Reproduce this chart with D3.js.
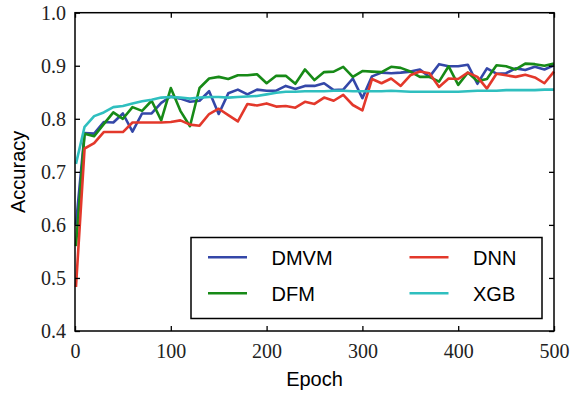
<!DOCTYPE html>
<html>
<head>
<meta charset="utf-8">
<script src="https://cdn.jsdelivr.net/npm/d3@7"></script>
<style>
  html, body { margin: 0; padding: 0; background: #fff; }
  svg { display: block; }
</style>
</head>
<body>
<svg id="chart" width="572" height="394"></svg>
<script>
const epochs = [1,10,20,30,40,50,60,70,80,90,100,110,120,130,140,150,160,170,180,190,200,210,220,230,240,250,260,270,280,290,300,310,320,330,340,350,360,370,380,390,400,410,420,430,440,450,460,470,480,490,500];

const dmvm = [0.600,0.773,0.772,0.794,0.793,0.810,0.776,0.810,0.810,0.830,0.842,0.838,0.832,0.834,0.852,0.809,0.848,0.855,0.846,0.855,0.853,0.853,0.862,0.856,0.862,0.862,0.867,0.854,0.855,0.876,0.839,0.880,0.887,0.886,0.887,0.889,0.893,0.879,0.903,0.899,0.899,0.902,0.866,0.895,0.885,0.886,0.895,0.892,0.898,0.893,0.901];

const dfm = [0.560,0.772,0.767,0.790,0.812,0.800,0.822,0.815,0.834,0.797,0.858,0.815,0.786,0.858,0.876,0.879,0.875,0.882,0.882,0.884,0.867,0.881,0.881,0.866,0.893,0.873,0.888,0.889,0.898,0.879,0.890,0.889,0.888,0.898,0.896,0.889,0.879,0.879,0.870,0.899,0.864,0.887,0.871,0.875,0.901,0.899,0.893,0.904,0.903,0.900,0.904];

const dnn = [0.483,0.744,0.754,0.775,0.775,0.775,0.793,0.793,0.793,0.793,0.794,0.797,0.789,0.787,0.809,0.819,0.807,0.795,0.828,0.825,0.829,0.823,0.824,0.821,0.832,0.828,0.840,0.834,0.845,0.826,0.816,0.875,0.867,0.876,0.862,0.882,0.889,0.886,0.860,0.876,0.875,0.887,0.879,0.857,0.885,0.882,0.879,0.883,0.878,0.867,0.889];

const xgb = [0.715,0.785,0.805,0.812,0.822,0.824,0.829,0.833,0.836,0.840,0.841,0.840,0.838,0.840,0.841,0.841,0.840,0.841,0.842,0.843,0.846,0.849,0.851,0.851,0.852,0.852,0.852,0.853,0.853,0.852,0.852,0.852,0.852,0.853,0.852,0.851,0.851,0.851,0.851,0.851,0.851,0.852,0.853,0.853,0.853,0.854,0.854,0.854,0.854,0.855,0.855];

const seriesNames = ["DMVM", "DFM", "DNN", "XGB"];
const seriesValues = [dmvm, dfm, dnn, xgb];
const seriesColors = ["#3447a8", "#178a17", "#e3382b", "#2fbfbf"];

const xTicks = [0, 100, 200, 300, 400, 500];
const yTicks = [0.4, 0.5, 0.6, 0.7, 0.8, 0.9, 1.0];

const svg = d3.select("#chart");
const pLeft = 75, pRight = 554, pTop = 12.7, pBottom = 331;

const x = d3.scaleLinear().domain([0, 500]).range([pLeft, pRight]);
const y = d3.scaleLinear().domain([0.4, 1.0]).range([pBottom, pTop]);

// lines
const line = d3.line().x((d, i) => x(epochs[i])).y(d => y(d));
seriesValues.forEach((vals, k) => {
  svg.append("path")
    .datum(vals)
    .attr("fill", "none")
    .attr("stroke", seriesColors[k])
    .attr("stroke-width", 2.6)
    .attr("stroke-linejoin", "round")
    .attr("d", line);
});

const tickFont = "'Liberation Serif', 'Times New Roman', serif";
const sansFont = "'Liberation Sans', Arial, Helvetica, sans-serif";

// axes
const axB = svg.append("g").attr("transform", `translate(0,${pBottom})`)
  .call(d3.axisBottom(x).tickValues(xTicks).tickSize(-5).tickPadding(13).tickFormat(d3.format("d")));
const axT = svg.append("g").attr("transform", `translate(0,${pTop})`)
  .call(d3.axisTop(x).tickValues(xTicks).tickSize(-5).tickFormat(""));
const axL = svg.append("g").attr("transform", `translate(${pLeft},0)`)
  .call(d3.axisLeft(y).tickValues(yTicks).tickSize(-5).tickPadding(9).tickFormat(d3.format(".1f")));
const axR = svg.append("g").attr("transform", `translate(${pRight},0)`)
  .call(d3.axisRight(y).tickValues(yTicks).tickSize(-5).tickFormat(""));

[axB, axT, axL, axR].forEach(g => {
  g.select(".domain").remove();
  g.selectAll(".tick line").attr("stroke", "#000").attr("stroke-width", 1.3);
  g.selectAll(".tick text").attr("font-family", tickFont).attr("font-size", 20).attr("fill", "#222");
});
axL.selectAll(".tick text").attr("dy", "0.34em");

svg.append("rect")
  .attr("x", pLeft).attr("y", pTop)
  .attr("width", pRight - pLeft).attr("height", pBottom - pTop)
  .attr("fill", "none").attr("stroke", "#000").attr("stroke-width", 1.5);

// axis labels
svg.append("text")
  .attr("x", (pLeft + pRight) / 2).attr("y", 386)
  .attr("text-anchor", "middle")
  .attr("font-family", sansFont).attr("font-size", 20)
  .text("Epoch");
svg.append("text")
  .attr("transform", `translate(25,${(pTop + pBottom) / 2}) rotate(-90)`)
  .attr("text-anchor", "middle")
  .attr("font-family", sansFont).attr("font-size", 20)
  .text("Accuracy");

// legend
const lg = svg.append("g");
lg.append("rect")
  .attr("x", 191).attr("y", 237.5).attr("width", 351).attr("height", 81)
  .attr("fill", "#fff").attr("stroke", "#000").attr("stroke-width", 1.5);
const legendPos = [
  {lx: 208, ty: 257.3}, {lx: 208, ty: 293.3},
  {lx: 409.5, ty: 257.3}, {lx: 409.5, ty: 293.3}
];
seriesNames.forEach((name, k) => {
  const p = legendPos[k];
  lg.append("line")
    .attr("x1", p.lx).attr("x2", p.lx + 39)
    .attr("y1", p.ty).attr("y2", p.ty)
    .attr("stroke", seriesColors[k]).attr("stroke-width", 2.6);
  lg.append("text")
    .attr("x", p.lx + 63.5).attr("y", p.ty + 8)
    .attr("font-family", sansFont).attr("font-size", 20)
    .text(name);
});
</script>
</body>
</html>
